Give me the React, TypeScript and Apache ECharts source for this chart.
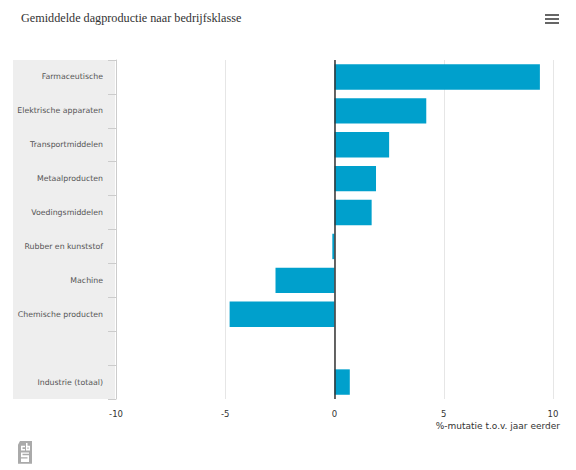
import React, { useEffect, useRef } from "react";
import * as echarts from "echarts";

const categories = [
  "Farmaceutische",
  "Elektrische apparaten",
  "Transportmiddelen",
  "Metaalproducten",
  "Voedingsmiddelen",
  "Rubber en kunststof",
  "Machine",
  "Chemische producten",
  "",
  "Industrie (totaal)",
];
const values: (number | null)[] = [9.4, 4.2, 2.5, 1.9, 1.7, -0.1, -2.7, -4.8, null, 0.7];
const xTicks = { min: -10, max: 10, interval: 5 };
const titleText = "Gemiddelde dagproductie naar bedrijfsklasse";
const axisTitle = "%-mutatie t.o.v. jaar eerder";

const logoPath =
  "M2 0 L14 0 L14 24 L0 24 L0 4 Z M3 5 L3 10 L7 10 L7 8.5 L4.5 8.5 L4.5 6.5 L7 6.5 L7 5 Z M8 2 L8 10 L12 10 L12 5 L9.5 5 L9.5 2 Z M9.5 6.5 L10.5 6.5 L10.5 8.5 L9.5 8.5 Z M3 12 L3 17 L9.5 17 L9.5 18.5 L3 18.5 L3 22 L11 22 L11 15 L4.5 15 L4.5 13.5 L11 13.5 L11 12 Z";

export default function App() {
  const ref = useRef<HTMLDivElement>(null);
  useEffect(() => {
    if (!ref.current) return;
    echarts.graphic.registerShape("cbslogo", echarts.graphic.extendPath(logoPath, {}));
    const chart = echarts.init(ref.current, null, { renderer: "svg" });
    chart.setOption({
      animation: false,
      backgroundColor: "#ffffff",
      title: {
        text: titleText,
        left: 16,
        top: 7,
        textStyle: {
          fontFamily: "Liberation Serif",
          fontWeight: "normal",
          fontSize: 12.2,
          color: "#333333",
        },
      },
      grid: { left: 116, right: 23, top: 60, bottom: 71, containLabel: false },
      xAxis: {
        type: "value",
        min: xTicks.min,
        max: xTicks.max,
        interval: xTicks.interval,
        axisLine: { show: false },
        axisTick: { show: false },
        splitLine: { show: true, lineStyle: { color: "#e6e6e6", width: 1 } },
        axisLabel: {
          fontFamily: "DejaVu Sans",
          fontSize: 8.5,
          color: "#333333",
          margin: 10,
        },
      },
      yAxis: {
        type: "category",
        inverse: true,
        data: categories,
        axisLine: { show: true, onZero: false, lineStyle: { color: "#cccccc" } },
        axisTick: { show: true, length: 8, lineStyle: { color: "#cccccc" } },
        axisLabel: {
          fontFamily: "DejaVu Sans",
          fontSize: 7.8,
          color: "#555555",
          margin: 13,
        },
      },
      graphic: [
        {
          type: "rect",
          z: -10,
          shape: { x: 13, y: 60, width: 102, height: 339 },
          style: { fill: "#eeeeee" },
        },
        {
          type: "text",
          right: 16,
          top: 421,
          style: {
            text: axisTitle,
            fontFamily: "DejaVu Sans",
            fontSize: 9,
            fill: "#333333",
          },
        },
        { type: "rect", shape: { x: 545, y: 14, width: 14, height: 2 }, style: { fill: "#666666" } },
        { type: "rect", shape: { x: 545, y: 18, width: 14, height: 2 }, style: { fill: "#666666" } },
        { type: "rect", shape: { x: 545, y: 22, width: 14, height: 2 }, style: { fill: "#666666" } },
        {
          type: "cbslogo",
          x: 18,
          y: 441,
          scaleX: 1,
          scaleY: 0.95,
          style: { fill: "#aaaaaa" },
        },
      ],
      series: [
        {
          type: "bar",
          data: values,
          barCategoryGap: "25%",
          itemStyle: { color: "#00a0cc" },
          markLine: {
            silent: true,
            symbol: "none",
            label: { show: false },
            lineStyle: { color: "#333333", width: 1.5, type: "solid" },
            data: [{ xAxis: 0 }],
          },
        },
      ],
    });
    return () => chart.dispose();
  }, []);
  return (
    <div
      ref={ref}
      style={{ position: "fixed", left: 0, top: 0, width: 576, height: 470 }}
    />
  );
}
